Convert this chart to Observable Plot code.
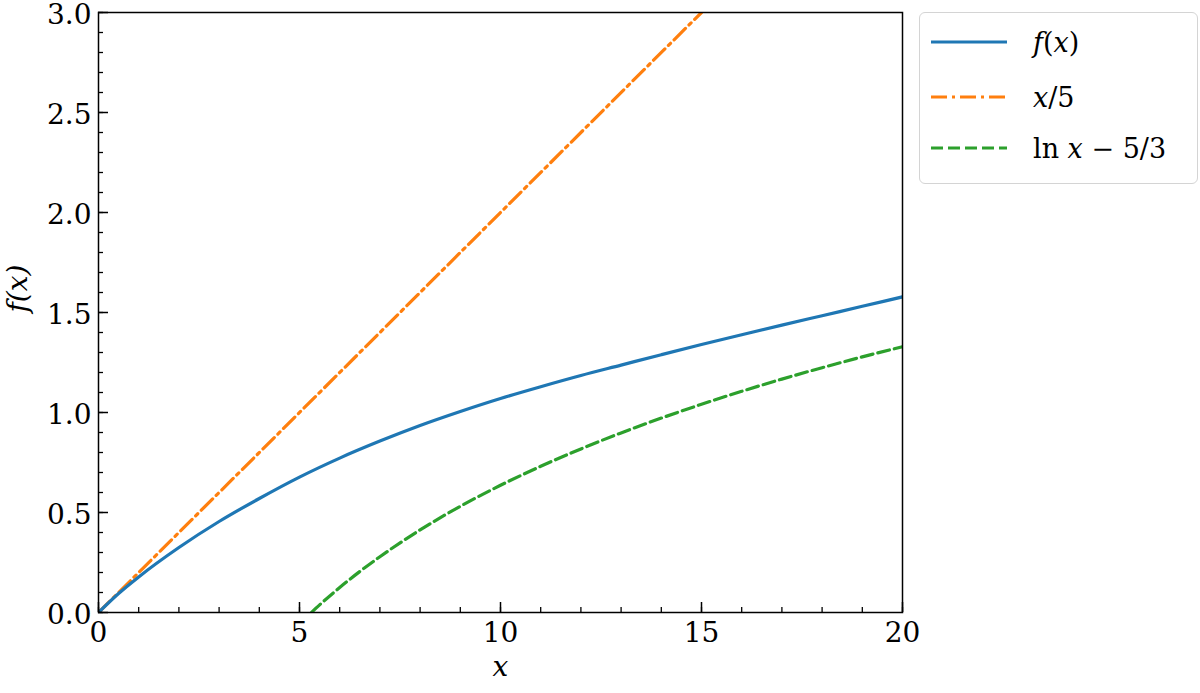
<!DOCTYPE html>
<html>
<head>
<meta charset="utf-8">
<script src="https://cdn.jsdelivr.net/npm/d3@7"></script>
<script src="https://cdn.jsdelivr.net/npm/@observablehq/plot@0.6"></script>
<style>
  body { margin: 0; background: white; }
  #wrap { position: relative; width: 1200px; height: 693px; }
  #chart svg, #chart svg text { font-family: "DejaVu Serif", serif !important; }
  #legend {
    position: absolute; left: 919px; top: 12px; width: 277px; height: 170px;
    border: 1px solid #d4d4d4; border-radius: 6px; background: white;
    font-family: "DejaVu Serif", serif; font-size: 27px; color: black;
  }
  .row { position: absolute; left: 0; height: 40px; display: flex; align-items: center; }
  .row svg { margin-left: 11px; margin-right: 26px; }
  i { font-style: italic; }
</style>
</head>
<body>
<div id="wrap">
  <div id="chart"></div>
  <div id="legend"></div>
</div>
<script>
// valores
const xF = [0, 0.5, 1, 2, 3, 4, 5, 6, 7, 8, 9, 10, 11, 12, 13, 14, 15, 16, 17, 18, 19, 20]
const fVals = [0, 0.095, 0.178, 0.325, 0.455, 0.57, 0.677, 0.772, 0.857, 0.935, 1.005, 1.07, 1.129, 1.185, 1.237, 1.289, 1.34, 1.389, 1.437, 1.484, 1.531, 1.578]
const xLin = [0, 15]
const linVals = [0, 3]
const xLog = [5.3, 5.5, 6, 6.5, 7, 8, 9, 10, 11, 12, 13, 14, 15, 16, 17, 18, 19, 20]
const logVals = [0.001, 0.038, 0.125, 0.205, 0.279, 0.413, 0.531, 0.636, 0.731, 0.818, 0.898, 0.972, 1.041, 1.106, 1.167, 1.224, 1.278, 1.329]
const xMajor = [0, 5, 10, 15, 20]
const xMinor = d3.range(0, 21)
const yMajor = [0, 0.5, 1, 1.5, 2, 2.5, 3]
const yMinor = d3.range(0, 31).map(d => d / 10)

const colors = {f: '#1f77b4', lin: '#ff7f0e', log: '#2ca02c'}
const dashLin = '16,5,3,5'
const dashLog = '12,5'

const W = 1200, H = 693
const mL = 98, mR = 298, mT = 12, mB = 81
const frameW = W - mL - mR, frameH = H - mT - mB

const fData = xF.map((x, i) => ({x, y: fVals[i]}))
const linData = xLin.map((x, i) => ({x, y: linVals[i]}))
const logData = xLog.map((x, i) => ({x, y: logVals[i]}))

let chart = Plot.plot({
  width: W, height: H,
  marginLeft: mL, marginRight: mR, marginTop: mT, marginBottom: mB,
  x: {domain: [0, 20]},
  y: {domain: [0, 3]},
  style: {fontFamily: 'DejaVu Serif, serif', fontSize: 27, color: 'black', background: 'white', overflow: 'visible'},
  marks: [
    Plot.line(linData, {x: 'x', y: 'y', stroke: colors.lin, strokeWidth: 3.2, strokeDasharray: dashLin, clip: true}),
    Plot.line(logData, {x: 'x', y: 'y', stroke: colors.log, strokeWidth: 3.2, strokeDasharray: dashLog, curve: 'monotone-x', clip: true}),
    Plot.line(fData, {x: 'x', y: 'y', stroke: colors.f, strokeWidth: 3.2, curve: 'monotone-x', clip: true}),
    // ticks hacia adentro
    Plot.tickX(xMinor, {x: d => d, insetTop: frameH - 5, stroke: 'black', strokeWidth: 1.3}),
    Plot.tickX(xMajor, {x: d => d, insetTop: frameH - 10, stroke: 'black', strokeWidth: 1.5}),
    Plot.tickY(yMinor, {y: d => d, insetRight: frameW - 5, stroke: 'black', strokeWidth: 1.3}),
    Plot.tickY(yMajor, {y: d => d, insetRight: frameW - 10, stroke: 'black', strokeWidth: 1.5}),
    Plot.frame({stroke: 'black', strokeWidth: 1.5}),
    Plot.axisX(xMajor, {tickSize: 0, tickPadding: 10, fontSize: 28, label: null, tickFormat: d => d}),
    Plot.axisY(yMajor, {tickSize: 0, tickPadding: 7, dy: 3, fontSize: 28, label: null, tickFormat: d3.format('.1f')}),
    Plot.text(['x'], {frameAnchor: 'bottom', dy: 63, fontSize: 28, fontStyle: 'italic'}),
    Plot.text(['f(x)'], {frameAnchor: 'left', dx: -80, rotate: -90, fontSize: 28, fontStyle: 'italic'}),
  ],
})
d3.select('#chart').append(() => chart)

// leyenda
const entries = [
  {color: colors.f, dash: null, label: '<i>f</i>(<i>x</i>)', top: 9},
  {color: colors.lin, dash: dashLin, label: '<i>x</i>/5', top: 64},
  {color: colors.log, dash: dashLog, label: 'ln <i>x</i> − 5/3', top: 115},
]
const legend = d3.select('#legend')
entries.forEach(e => {
  const row = legend.append('div').attr('class', 'row').style('top', e.top + 'px')
  const s = row.append('svg').attr('width', 76).attr('height', 10)
  s.append('line').attr('x1', 0).attr('x2', 76).attr('y1', 5).attr('y2', 5)
    .attr('stroke', e.color).attr('stroke-width', 3.2)
    .attr('stroke-dasharray', e.dash)
  row.append('span').html(e.label)
})
</script>
</body>
</html>
